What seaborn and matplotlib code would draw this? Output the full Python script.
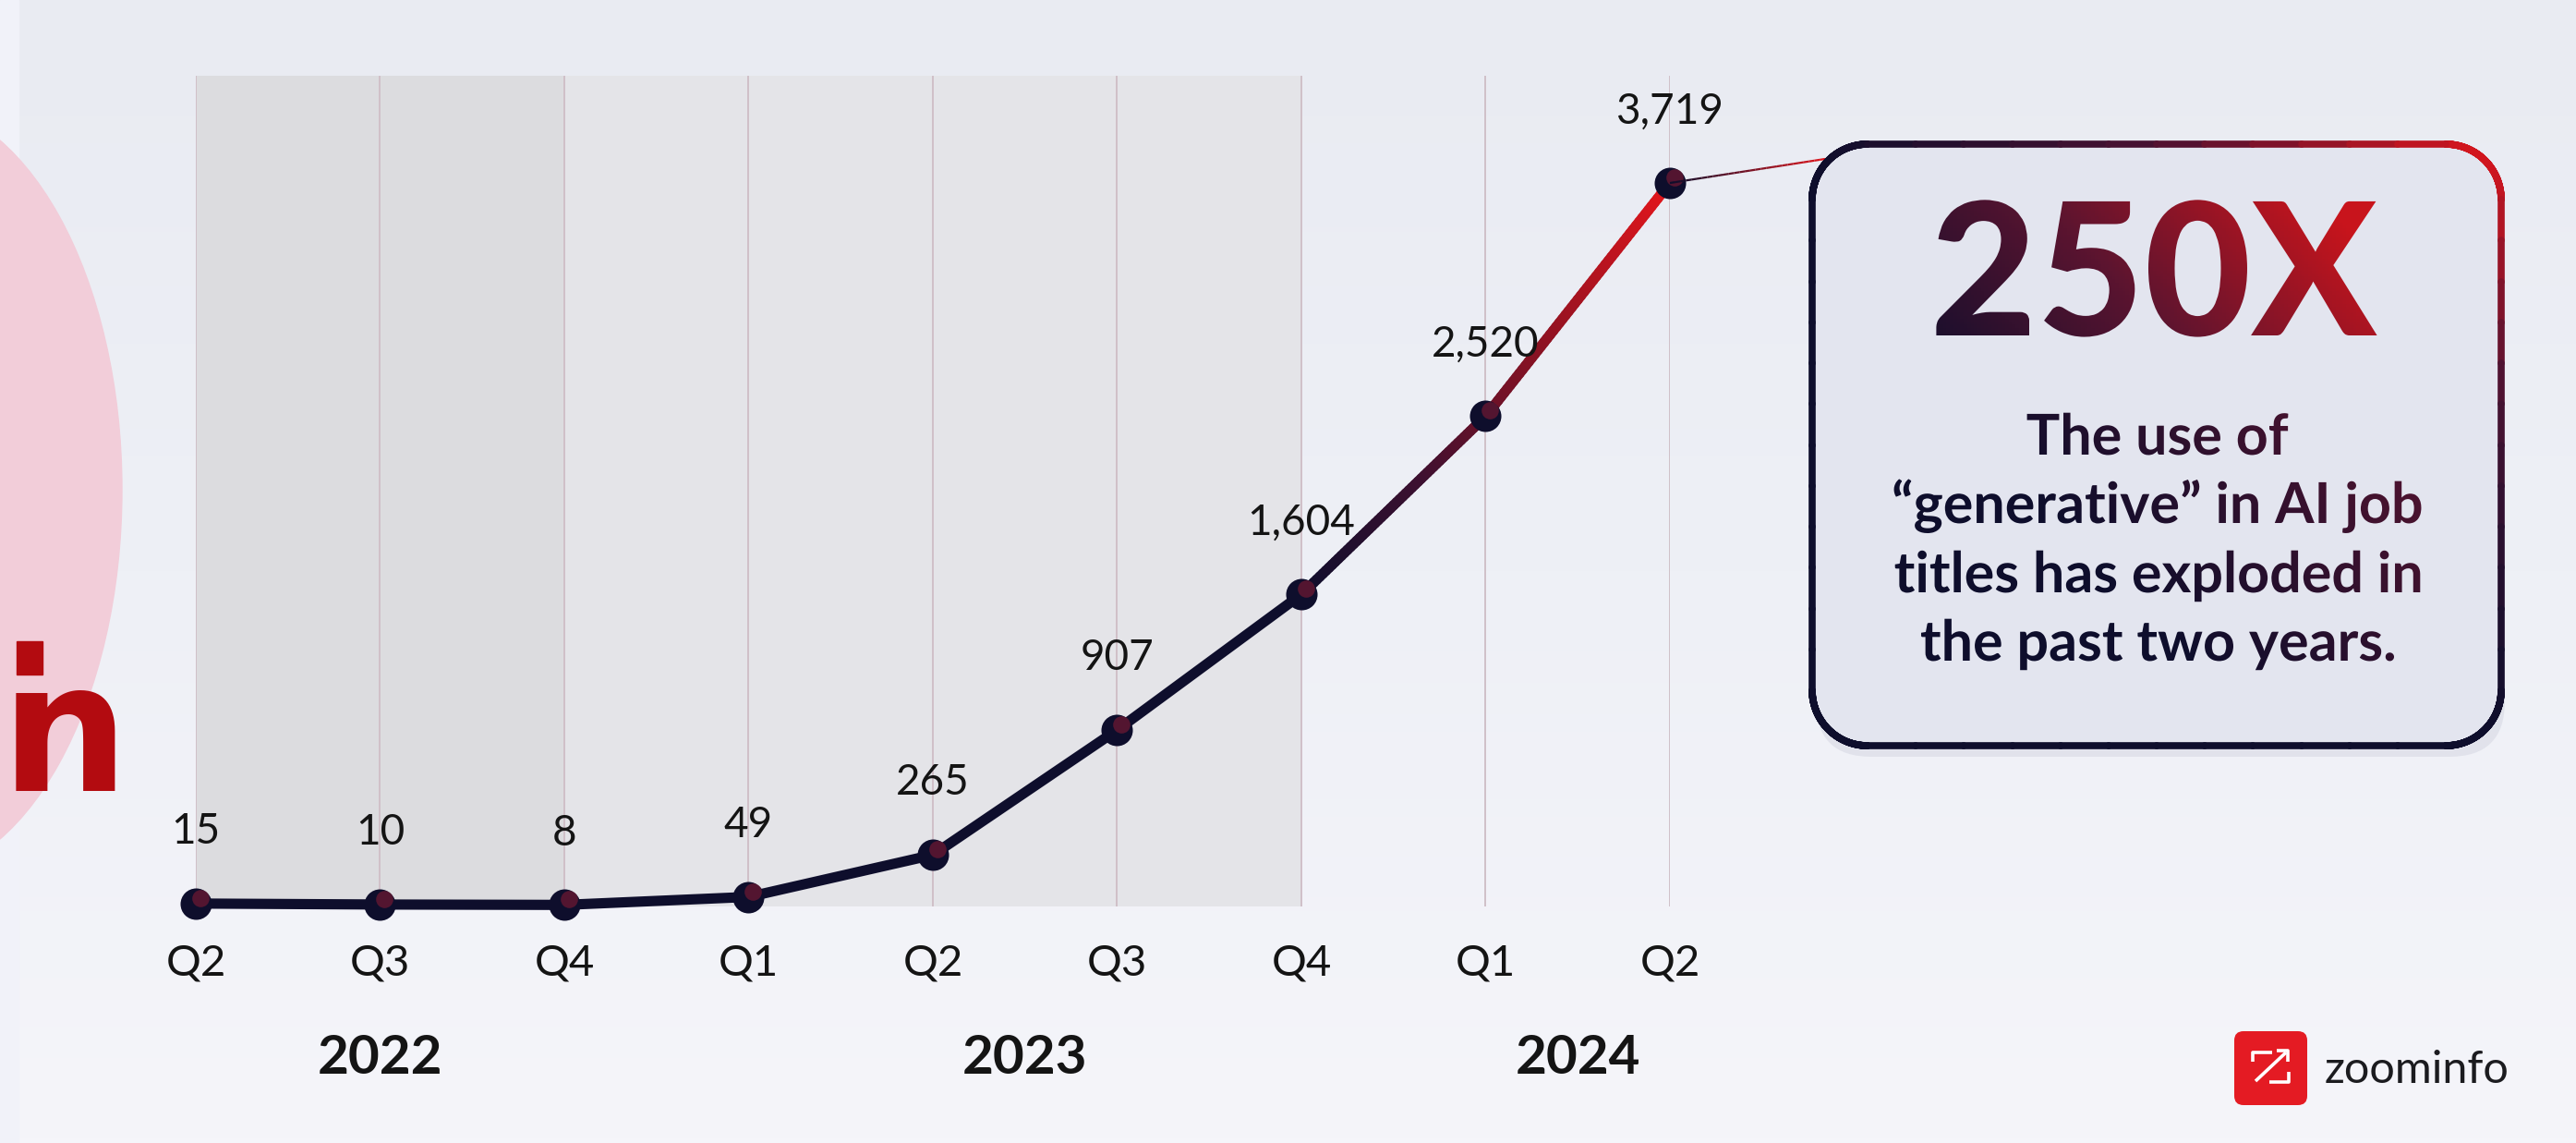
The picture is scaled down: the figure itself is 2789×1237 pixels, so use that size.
import numpy as np
import pandas as pd
import matplotlib
matplotlib.use("Agg")
import matplotlib.pyplot as plt
import matplotlib.transforms as mtransforms
from matplotlib.collections import LineCollection
from matplotlib.colors import LinearSegmentedColormap
from matplotlib.font_manager import FontProperties
from matplotlib.patches import Ellipse, FancyBboxPatch, PathPatch, Rectangle
from matplotlib.textpath import TextPath
import seaborn as sns

# data
quarters = ["Q2", "Q3", "Q4", "Q1", "Q2", "Q3", "Q4", "Q1", "Q2"]
years = ["2022", "2022", "2022", "2023", "2023", "2023", "2023", "2024", "2024"]
counts = [15, 10, 8, 49, 265, 907, 1604, 2520, 3719]
value_labels = ["15", "10", "8", "49", "265", "907", "1,604", "2,520", "3,719"]
headline = "250X"
callout_lines = [
    "The use of",
    "\u201cgenerative\u201d in AI job",
    "titles has exploded in",
    "the past two years.",
]
brand = "zoominfo"

W, H = 2789, 1237
NAVY = "#0e0e2c"
RED = "#dc161d"
TEXT = "#141414"

sns.set_theme(style="white")
plt.rcParams["font.family"] = ["Lato", "DejaVu Sans"]

df = pd.DataFrame(
    {"idx": range(len(counts)), "quarter": quarters, "year": years, "count": counts}
)

fig = plt.figure(figsize=(W / 100, H / 100), dpi=100)
fig.patch.set_facecolor("#eef0f6")

# ---- background layer (pixel coordinates, y down)
bg = fig.add_axes([0, 0, 1, 1], zorder=0)
bg.set_xlim(0, W)
bg.set_ylim(H, 0)
bg.axis("off")
bg_cmap = LinearSegmentedColormap.from_list("bg", ["#e9ebf2", "#eef0f6", "#f5f5fa"])
bg.imshow(np.linspace(0, 1, 256)[:, None], cmap=bg_cmap, extent=(0, W, H, 0),
          aspect="auto", zorder=0)
bg.add_patch(Rectangle((0, 0), 20, H, color="#f1f2f9", zorder=1))
bg.add_patch(Ellipse((-102, 530), 468, 840, color="#f2cdd9", zorder=2))
bg.text(1, 856, "n", fontsize=140, fontweight="bold", family="DejaVu Sans",
        color="#b30b10", ha="left", va="baseline", zorder=3)
bg.add_patch(Rectangle((18, 694), 28, 36, color="#b30b10", zorder=3))
bg.set_xlim(0, W)
bg.set_ylim(H, 0)

# ---- main chart
x_first, x_last, y_top, y_base = 212, 1808, 82, 981
ax = fig.add_axes([x_first / W, 1 - y_base / H, (x_last - x_first) / W,
                   (y_base - y_top) / H], zorder=1)
ax.set_facecolor("none")
ax.set_xlim(0, len(counts) - 1)
ax.set_ylim(0, 4270)

ax.axvspan(0, 2, color="#dcdcdf", zorder=0, lw=0)
ax.axvspan(2, 6, color="#e4e4e8", zorder=0, lw=0)
for i in df["idx"]:
    ax.axvline(i, color="#d0c0c8", lw=1.4, zorder=1)

sns.lineplot(data=df.iloc[:7], x="idx", y="count", color=NAVY, linewidth=8,
             ax=ax, zorder=3, clip_on=False, solid_capstyle="round")

# gradient on the last two segments
line_cmap = LinearSegmentedColormap.from_list(
    "line", [NAVY, "#3e1030", "#8e1222", "#e2161c"])
segs, cols = [], []
xs, ys = df["idx"].to_numpy(), df["count"].to_numpy()
n_sub = 60
for k in (6, 7):
    px = np.linspace(xs[k], xs[k + 1], n_sub + 1)
    py = np.linspace(ys[k], ys[k + 1], n_sub + 1)
    for j in range(n_sub):
        segs.append([(px[j], py[j]), (px[j + 1], py[j + 1])])
        cols.append(line_cmap(((k - 6) * n_sub + j) / (2 * n_sub - 1)))
ax.add_collection(LineCollection(segs, colors=cols, linewidths=8, zorder=3,
                                 capstyle="round"))

sns.scatterplot(data=df, x="idx", y="count", s=600, color=NAVY, edgecolor=NAVY,
                linewidth=0, ax=ax, zorder=5, clip_on=False, legend=False)
hl = mtransforms.offset_copy(ax.transData, fig=fig, x=5, y=6, units="dots")
ax.scatter(df["idx"], df["count"], s=180, color="#8c1c34", alpha=0.55, lw=0,
           transform=hl, zorder=6, clip_on=False)

for i, (c, lab) in enumerate(zip(counts, value_labels)):
    ax.annotate(lab, (i, c), xytext=(0, 56), textcoords="offset points",
                ha="center", va="center", fontsize=33, color=TEXT)

ax.set_xticks(df["idx"])
ax.set_xticklabels(quarters, fontsize=34, color=TEXT)
ax.tick_params(axis="x", length=0, pad=29)
ax.set_yticks([])
ax.set_xlabel("")
ax.set_ylabel("")
sns.despine(ax=ax, left=True, bottom=True)

year_pos = df.groupby("year")["idx"].mean()
ytr = mtransforms.blended_transform_factory(ax.transData, fig.transFigure)
for yr, xp in year_pos.items():
    ax.text(xp, 1 - 1145 / H, yr, transform=ytr, ha="center", va="center",
            fontsize=42, fontweight="bold", color=TEXT)

# ---- callout and logo (pixel coordinates, y down)
ov = fig.add_axes([0, 0, 1, 1], zorder=3)
ov.patch.set_alpha(0)
ov.axis("off")
ov.set_xlim(0, W)
ov.set_ylim(H, 0)

bx0, by0, bx1, by1, rad = 1962, 156, 2708, 807, 60
ov.add_patch(FancyBboxPatch((bx0 + 4, by0 + 12), bx1 - bx0, by1 - by0,
                            boxstyle=f"round,pad=0,rounding_size={rad}",
                            facecolor="#cfd1dd", edgecolor="none", alpha=0.45))
ov.add_patch(FancyBboxPatch((bx0, by0), bx1 - bx0, by1 - by0,
                            boxstyle=f"round,pad=0,rounding_size={rad}",
                            facecolor="#e3e5ef", edgecolor="none"))


def rounded_outline(x0, y0, x1, y1, r, n=30):
    pts = []
    corners = [((x1 - r, y0 + r), -90, 0), ((x1 - r, y1 - r), 0, 90),
               ((x0 + r, y1 - r), 90, 180), ((x0 + r, y0 + r), 180, 270)]
    for (cx, cy), a0, a1 in corners:
        a = np.radians(np.linspace(a0, a1, n))
        pts.extend(zip(cx + r * np.cos(a), cy + r * np.sin(a)))
    pts.append(pts[0])
    out = []
    for p, q in zip(pts[:-1], pts[1:]):
        for t in np.linspace(0, 1, 12, endpoint=False):
            out.append((p[0] + (q[0] - p[0]) * t, p[1] + (q[1] - p[1]) * t))
    out.append(pts[0])
    return np.array(out)


edge_cmap = LinearSegmentedColormap.from_list("edge", [NAVY, "#4a1232", "#e2161c"])
op = rounded_outline(bx0, by0, bx1, by1, rad)
esegs = np.stack([op[:-1], op[1:]], axis=1)
mid = (op[:-1] + op[1:]) / 2
u = (mid[:, 0] - bx0) / (bx1 - bx0)
v = (mid[:, 1] - by0) / (by1 - by0)
ecol = edge_cmap(np.clip(u * (1 - v) ** 1.3, 0, 1))
ov.add_collection(LineCollection(esegs, colors=ecol, linewidths=5.5, zorder=3,
                                 capstyle="round"))

# connector from the last point to the box
pt = ax.transData.transform((df["idx"].iloc[-1], df["count"].iloc[-1]))
cx0, cy0 = pt[0], H - pt[1]
cx1, cy1 = bx0 + 14, by0 + 16
cpx = np.linspace(cx0, cx1, 30)
cpy = np.linspace(cy0, cy1, 30)
ov.add_collection(LineCollection(
    np.stack([np.column_stack([cpx[:-1], cpy[:-1]]),
              np.column_stack([cpx[1:], cpy[1:]])], axis=1),
    colors=LinearSegmentedColormap.from_list("c", [NAVY, RED])(np.linspace(0, 1, 29)),
    linewidths=1.6, zorder=2))

gy, gx = np.mgrid[0:1:200j, 0:1:200j]
field = np.clip(1.2 * gx + (1 - gy) - 0.8, 0, 1)
text_cmap = LinearSegmentedColormap.from_list("txt", [NAVY, "#5a1430", "#c8141c"])


def gradient_text(s, cx, base_y, size, weight, strength):
    prop = FontProperties(family="Lato", weight=weight)
    tp = TextPath((0, 0), s, size=size, prop=prop)
    bb = tp.get_extents()
    tr = (mtransforms.Affine2D().translate(-(bb.x0 + bb.x1) / 2, 0)
          .scale(1, -1).translate(cx, base_y))
    patch = PathPatch(tr.transform_path(tp), facecolor="none", edgecolor="none")
    ov.add_patch(patch)
    im = ov.imshow(field * strength, cmap=text_cmap, vmin=0, vmax=1,
                   extent=(bx0, bx1, by1, by0), aspect="auto", zorder=4)
    im.set_clip_path(patch)


gradient_text(headline, 2335, 363, 200, "black", 1.0)
for line, base in zip(callout_lines, [492, 566, 641, 715]):
    gradient_text(line, 2336, base, 61, "bold", 0.6)

# logo
ov.add_patch(FancyBboxPatch((2419, 1116), 79, 80,
                            boxstyle="round,pad=0,rounding_size=10",
                            facecolor="#e41b23", edgecolor="none"))
for xs_, ys_ in [([2439, 2439, 2460], [1149, 1139, 1139]),
                 ([2442, 2475], [1170, 1139]),
                 ([2465, 2477, 2477], [1137, 1137, 1149]),
                 ([2457, 2478, 2478], [1171, 1171, 1160])]:
    ov.plot(xs_, ys_, color="white", lw=2.6, solid_capstyle="butt")
ov.text(2517, 1172, brand, fontsize=35, color="#1b1b1f", ha="left", va="baseline")

ov.set_xlim(0, W)
ov.set_ylim(H, 0)

fig.savefig("out.png", dpi=100, facecolor=fig.get_facecolor())
